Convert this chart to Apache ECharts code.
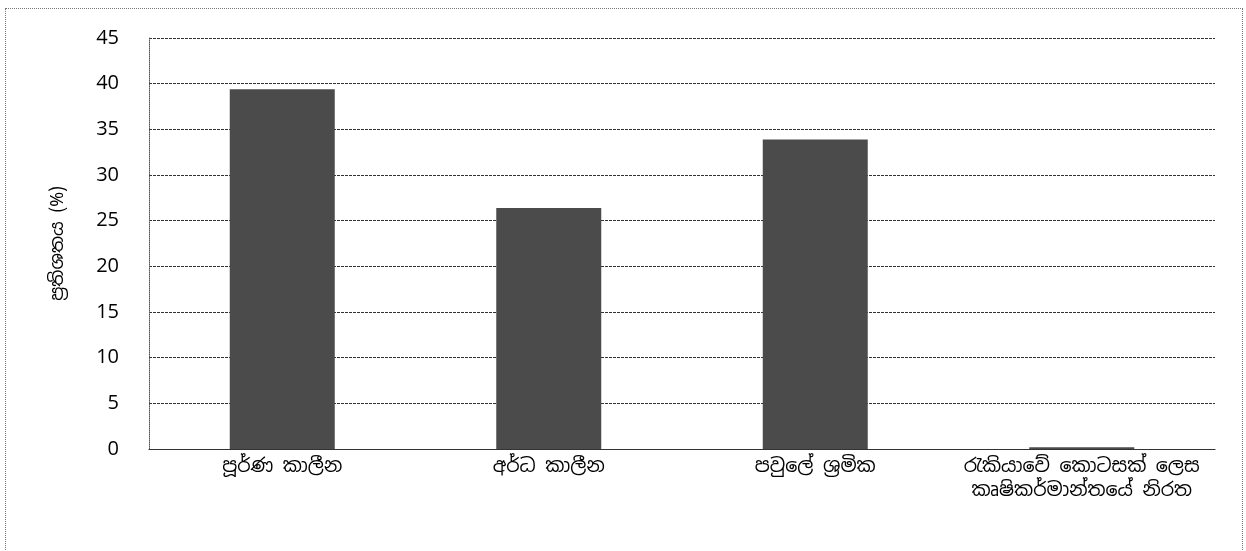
<!DOCTYPE html>
<html>
<head>
<meta charset="utf-8">
<script src="https://cdn.jsdelivr.net/npm/echarts@6/dist/echarts.min.js"></script>
<style>
html,body{margin:0;padding:0;background:#fff;}
#frame{position:absolute;left:5px;top:8px;width:1238px;height:560px;border:1px dotted #777;box-sizing:border-box;}
#chart{position:absolute;left:0;top:0;width:1246px;height:551px;}
</style>
</head>
<body>
<div id="frame"></div>
<div id="chart"></div>
<script>
const categories = ['පූර්ණ කාලීන', 'අර්ධ කාලීන', 'පවුලේ ශ්‍රමික', 'රැකියාවේ කොටසක් ලෙස\nකෘෂිකර්මාන්තයේ නිරත'];
const values = [39.4, 26.4, 33.9, 0.2];
const yTicks = [0, 5, 10, 15, 20, 25, 30, 35, 40, 45];
const yName = 'ප්‍රතිශතය (%)';

const chart = echarts.init(document.getElementById('chart'), null, {renderer: 'canvas'});
chart.setOption({
  animation: false,
  grid: {left: 149, right: 31, top: 38, bottom: 102},
  xAxis: {
    type: 'category',
    data: categories,
    axisLine: {show: true, lineStyle: {color: '#333', width: 1.2}},
    axisTick: {show: false},
    axisLabel: {interval: 0, color: '#000', fontSize: 19, margin: 6, lineHeight: 24,
      fontFamily: 'Noto Sans Sinhala, Noto Sans, sans-serif'}
  },
  yAxis: {
    type: 'value',
    min: yTicks[0],
    max: yTicks[yTicks.length - 1],
    interval: 5,
    name: yName,
    nameLocation: 'middle',
    nameGap: 82,
    nameRotate: 90,
    nameTextStyle: {color: '#000', fontSize: 18, fontFamily: 'Noto Sans Sinhala, Noto Sans, sans-serif'},
    axisLine: {show: true, lineStyle: {color: '#555', type: 'dotted', width: 1}},
    axisTick: {show: false},
    axisLabel: {color: '#000', fontSize: 20, margin: 30, fontFamily: 'Open Sans, Lato, sans-serif'},
    splitLine: {show: true, lineStyle: {color: '#333', type: [3, 1], width: 1}}
  },
  series: [{
    type: 'bar',
    data: values,
    barWidth: 105,
    itemStyle: {color: '#4b4b4b'}
  }]
});
</script>
</body>
</html>
